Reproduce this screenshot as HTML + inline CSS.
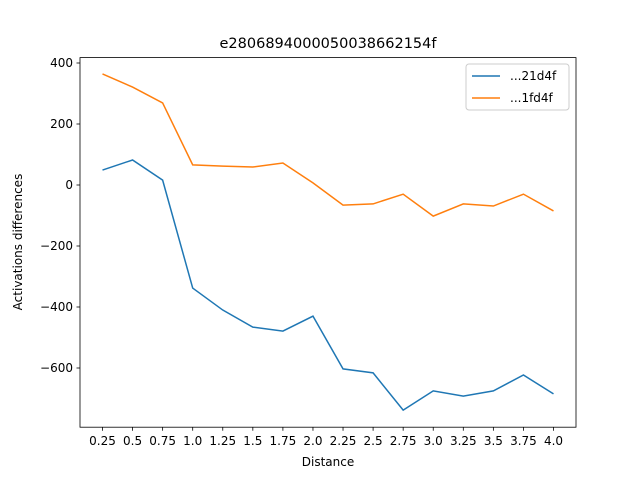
<!DOCTYPE html>
<html><head><meta charset="utf-8"><style>
body{margin:0;background:#fff}
svg{font-family:"DejaVu Sans","Liberation Sans",sans-serif}
</style></head><body>
<svg id="c" width="640" height="480" xmlns="http://www.w3.org/2000/svg">
<rect width="640" height="480" fill="#fff"/>
<text x="328" y="48" text-anchor="middle" font-size="14.5">e2806894000050038662154f</text>
<g id="ticks"></g>
<g id="lines"></g>
<rect x="80" y="57.6" width="496" height="369.6" fill="none" stroke="#000" stroke-width="0.8"/>
<text x="328" y="466" text-anchor="middle" font-size="12">Distance</text>
<text transform="translate(22,242) rotate(-90)" text-anchor="middle" font-size="12">Activations differences</text>
<g>
<rect x="466" y="64" width="103" height="46" fill="#fff" stroke="#ccc" rx="3"/>
<line x1="472" y1="76" x2="500" y2="76" stroke="#1f77b4" stroke-width="1.5"/>
<text x="510" y="80" font-size="12">...21d4f</text>
<line x1="472" y1="98" x2="500" y2="98" stroke="#ff7f0e" stroke-width="1.5"/>
<text x="510" y="102" font-size="12">...1fd4f</text>
</g>
</svg>
<script>
const categories=["0.25","0.5","0.75","1.0","1.25","1.5","1.75","2.0","2.25","2.5","2.75","3.0","3.25","3.5","3.75","4.0"];
const seriesBlue=[49,82,16,-338,-410,-466,-479,-430,-603,-616,-738,-675,-692,-675,-623,-685];
const seriesOrange=[364,321,269,66,62,59,72,7,-66,-62,-30,-102,-62,-69,-30,-85];
const yTicks=[400,200,0,-200,-400,-600];
const NS="http://www.w3.org/2000/svg";
function xs(i){return 102.5+i*(553.5-102.5)/(categories.length-1);}
function ys(v){return 185-v*0.305;}
const tg=document.getElementById('ticks');
function mk(t,a,p){const e=document.createElementNS(NS,t);for(const k in a)e.setAttribute(k,a[k]);p.appendChild(e);return e;}
categories.forEach((c,i)=>{
 const l=mk('line',{x1:xs(i),x2:xs(i),y1:427.2,y2:430.7,stroke:'#000','stroke-width':0.8},tg);
 
 
 const t=mk('text',{x:xs(i),y:445,'text-anchor':'middle','font-size':12},tg);t.textContent=c;
 
 
});
yTicks.forEach(v=>{
 const l=mk('line',{x1:76.5,x2:80,y1:ys(v),y2:ys(v),stroke:'#000','stroke-width':0.8},tg);
 
 
 const t=mk('text',{x:73,y:ys(v)+4,'text-anchor':'end','font-size':12},tg);t.textContent=v<0?'\u2212'+(-v):v;
 
 
});
const lg=document.getElementById('lines');
[[seriesBlue,'#1f77b4','line-21d4f'],[seriesOrange,'#ff7f0e','line-1fd4f']].forEach(([s,c,n])=>{
 const p=mk('polyline',{points:s.map((v,i)=>xs(i)+','+ys(v)).join(' '),fill:'none',stroke:c,'stroke-width':1.5},lg);
 
 
});
</script>
</body></html>
